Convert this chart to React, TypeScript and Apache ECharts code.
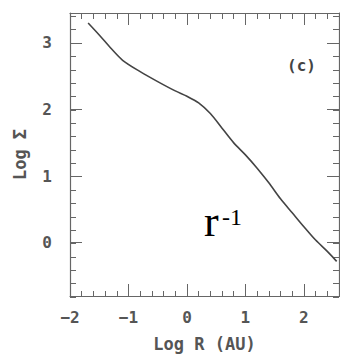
import React, { useEffect, useRef } from "react";
import * as echarts from "echarts";

const logR = [-1.69, -1.5, -1.3, -1.1, -0.8, -0.5, -0.2, 0.0, 0.2, 0.4, 0.6, 0.8, 1.0, 1.2, 1.4, 1.6, 1.8, 2.0, 2.2, 2.4, 2.56];
const logSigma = [3.3, 3.12, 2.92, 2.74, 2.57, 2.42, 2.28, 2.2, 2.1, 1.94, 1.72, 1.5, 1.32, 1.12, 0.9, 0.66, 0.45, 0.24, 0.04, -0.13, -0.28];

const xRange = [-2, 2.6];
const yRange = [-0.8, 3.45];
const xLabel = "Log R (AU)";
const yLabel = "Log Σ";
const panelTag = "(c)";

const AXIS_COLOR = "#666";
const LABEL_COLOR = "#555";
const FONT = "DejaVu Sans Mono";

const fmt = (v: number) => {
  if (Math.abs(v - Math.round(v)) > 1e-6) return "";
  const r = Math.round(v);
  return r < 0 ? "\u2212" + Math.abs(r) : String(r);
};

export default function App() {
  const ref = useRef<HTMLDivElement>(null);
  useEffect(() => {
    if (!ref.current) return;
    const chart = echarts.init(ref.current, null, { renderer: "svg" });
    const grid = { left: 70, right: 1, top: 13, bottom: 60 };
    const line = { show: true, onZero: false, lineStyle: { color: AXIS_COLOR, width: 1.2 } };
    const noLine = { show: false, onZero: false };
    const major = { show: true, inside: true, length: 12, lineStyle: { color: AXIS_COLOR, width: 1 } };
    const minor = { show: true, inside: true, length: 6, lineStyle: { color: AXIS_COLOR, width: 1 } };
    const labelStyle = { color: LABEL_COLOR, fontFamily: FONT, fontWeight: "bold" as const, fontSize: 16 };
    chart.setOption({
      animation: false,
      backgroundColor: "#fff",
      grid: [grid, grid],
      xAxis: [
        {
          gridIndex: 0, type: "value", position: "bottom", min: xRange[0], max: xRange[1], interval: 1,
          axisLine: line, axisTick: major, splitLine: { show: false },
          axisLabel: { formatter: fmt, ...labelStyle, margin: 13, showMaxLabel: false },
          name: xLabel, nameLocation: "middle", nameGap: 39,
          nameTextStyle: { ...labelStyle, fontSize: 17 },
        },
        {
          gridIndex: 0, type: "value", position: "top", min: xRange[0], max: xRange[1], interval: 1,
          axisLine: line, axisTick: major, splitLine: { show: false }, axisLabel: { show: false },
        },
        {
          gridIndex: 1, type: "value", position: "bottom", min: xRange[0], max: xRange[1], interval: 0.2,
          axisLine: noLine, axisTick: minor, splitLine: { show: false }, axisLabel: { show: false },
        },
        {
          gridIndex: 1, type: "value", position: "top", min: xRange[0], max: xRange[1], interval: 0.2,
          axisLine: noLine, axisTick: minor, splitLine: { show: false }, axisLabel: { show: false },
        },
      ],
      yAxis: [
        {
          gridIndex: 0, type: "value", position: "left", min: yRange[0], max: yRange[1], splitNumber: 4,
          axisLine: line, axisTick: major, splitLine: { show: false },
          axisLabel: { formatter: fmt, ...labelStyle, margin: 18 },
          name: yLabel, nameLocation: "middle", nameGap: 42, nameRotate: 90,
          nameTextStyle: { ...labelStyle, fontSize: 17 },
        },
        {
          gridIndex: 0, type: "value", position: "right", min: yRange[0], max: yRange[1], splitNumber: 4,
          axisLine: line, axisTick: major, splitLine: { show: false }, axisLabel: { show: false },
        },
        {
          gridIndex: 1, type: "value", position: "left", min: yRange[0], max: yRange[1], interval: 0.2,
          axisLine: noLine, axisTick: minor, splitLine: { show: false }, axisLabel: { show: false },
        },
        {
          gridIndex: 1, type: "value", position: "right", min: yRange[0], max: yRange[1], interval: 0.2,
          axisLine: noLine, axisTick: minor, splitLine: { show: false }, axisLabel: { show: false },
        },
      ],
      series: [
        {
          type: "line", xAxisIndex: 0, yAxisIndex: 0,
          data: logR.map((x, i) => [x, logSigma[i]]),
          smooth: 0.3, showSymbol: false,
          lineStyle: { color: "#444", width: 1.6 },
        },
      ],
      graphic: [
        {
          type: "text", left: 287, top: 57,
          style: { text: panelTag, fill: "#444", font: "bold 16px 'DejaVu Sans Mono'" },
        },
        {
          type: "text", left: 204, top: 199,
          style: { text: "r", fill: "#000", font: "44px 'Liberation Serif'" },
        },
        {
          type: "text", left: 222, top: 205,
          style: { text: "-1", fill: "#000", font: "24px 'Liberation Serif'" },
        },
      ],
    });
    return () => chart.dispose();
  }, []);
  return <div ref={ref} style={{ position: "fixed", left: 0, top: 0, width: 340, height: 357 }} />;
}
